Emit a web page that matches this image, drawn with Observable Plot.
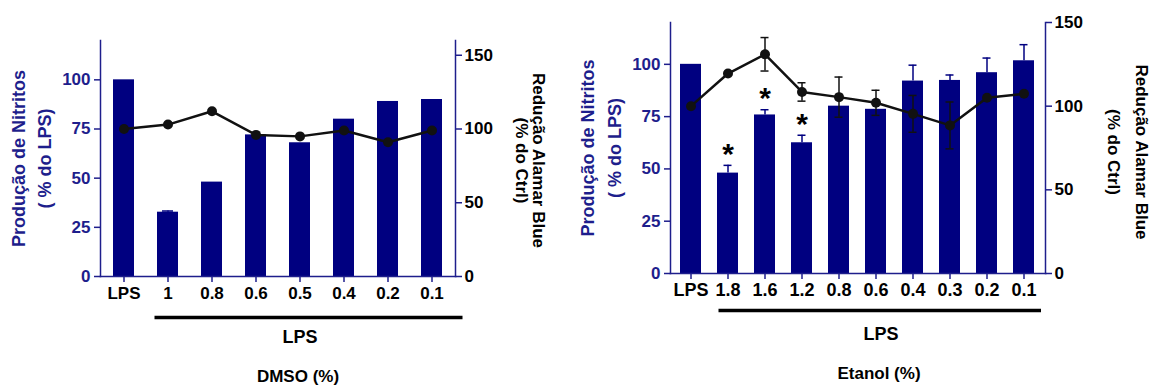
<!DOCTYPE html>
<html>
<head>
<meta charset="utf-8">
<script src="https://cdn.jsdelivr.net/npm/d3@7"></script>
<script src="https://cdn.jsdelivr.net/npm/@observablehq/plot@0.6"></script>
<style>
  html, body { margin: 0; padding: 0; background: #fff; }
  #wrap { position: relative; width: 1152px; height: 385px; overflow: hidden; }
  #wrap > div { position: absolute; top: 0; }
</style>
</head>
<body>
<div id="wrap"><div id="p1" style="left:0px"></div><div id="p2" style="left:570px"></div></div>
<script>
// ---- DMSO panel data ----
const dmsoCats = ["LPS", "1", "0.8", "0.6", "0.5", "0.4", "0.2", "0.1"];
const dmsoNitrite = [100, 32.7, 48, 72, 68, 80, 89, 90];
const dmsoNitriteErr = [0, 0.6, 0, 0, 0, 0, 0, 0];
const dmsoAlamar = [100, 103, 112, 96, 95, 99, 91, 99];
const dmsoAlamarErr = [0, 0, 0, 0, 0, 0, 0, 0];
const dmsoStars = [];

// ---- Etanol panel data ----
const etanolCats = ["LPS", "1.8", "1.6", "1.2", "0.8", "0.6", "0.4", "0.3", "0.2", "0.1"];
const etanolNitrite = [100, 48, 75.8, 62.5, 80, 78.5, 92, 92.3, 96, 101.7];
const etanolNitriteErr = [0, 3.7, 2.5, 3.6, 0, 0, 7.6, 2.6, 7, 7.7];
const etanolAlamar = [100, 119.5, 131, 108.5, 105.4, 102, 95.4, 88.5, 105, 107.4];
const etanolAlamarErr = [0, 0, 10, 5.5, 12, 7.5, 11, 14, 0, 0];
const etanolStars = ["1.8", "1.6", "1.2"];

// ---- texts ----
const leftTitle = ["Produção de Nitritos", "( % do LPS)"];
const rightTitle = ["Redução Alamar Blue", "(% do Ctrl)"];
const groupLabel = "LPS";
const dmsoLabel = "DMSO (%)";
const etanolLabel = "Etanol (%)";
const leftTicks = [0, 25, 50, 75, 100];
const rightTicks = [0, 50, 100, 150];

const BLUE = "#000080";
const AXIS = "#1e1e8c";
const FONT = "'Liberation Sans', Arial, Helvetica, sans-serif";

function panel(cfg) {
  const k = cfg.leftMax / cfg.rightMax; // right-axis value -> left-axis units
  const rows = cfg.cats.map((c, i) => ({
    cat: c,
    nit: cfg.nit[i],
    nitErr: cfg.nitErr[i],
    ala: cfg.ala[i] * k,
    alaErr: cfg.alaErr[i] * k
  }));
  const errNit = rows.filter(d => d.nitErr > 0);
  const errAla = rows.filter(d => d.alaErr > 0);
  const stars = rows.filter(d => cfg.stars.includes(d.cat));
  const treated = cfg.cats.slice(1);
  const half = cfg.pad / 2;
  const capOpts = {insetLeft: cfg.capInset, insetRight: cfg.capInset, strokeWidth: 1.5};
  return Plot.plot({
    width: cfg.width,
    height: 385,
    marginLeft: cfg.mL,
    marginRight: cfg.mR,
    marginTop: cfg.mT,
    marginBottom: cfg.mB,
    style: {fontFamily: FONT, fontSize: cfg.fs + "px", fontWeight: "bold", background: "transparent", overflow: "visible"},
    x: {domain: cfg.cats, paddingInner: cfg.pad, paddingOuter: half, label: null},
    y: {domain: [0, cfg.leftMax], label: null},
    marks: [
      Plot.barY(rows, {x: "cat", y: "nit", fill: BLUE}),
      Plot.ruleX(errNit, {x: "cat", y1: "nit", y2: d => d.nit + d.nitErr, stroke: BLUE, strokeWidth: 1.5}),
      Plot.tickY(errNit, {x: "cat", y: d => d.nit + d.nitErr, stroke: BLUE, ...capOpts}),
      Plot.text(stars, {x: "cat", y: d => d.nit + d.nitErr, text: () => "*", dy: -11, fontSize: 30, fill: "black", fontWeight: "bold"}),
      Plot.ruleX(errAla, {x: "cat", y1: d => d.ala - d.alaErr, y2: d => d.ala + d.alaErr, stroke: "#111", strokeWidth: 1.5}),
      Plot.tickY(errAla, {x: "cat", y: d => d.ala + d.alaErr, stroke: "#111", ...capOpts}),
      Plot.tickY(errAla, {x: "cat", y: d => d.ala - d.alaErr, stroke: "#111", ...capOpts}),
      Plot.line(rows, {x: "cat", y: "ala", stroke: "#111", strokeWidth: 2.5}),
      Plot.dot(rows, {x: "cat", y: "ala", r: 5, fill: "#111", stroke: "none"}),
      Plot.frame({anchor: "left", stroke: AXIS, strokeWidth: 1.5}),
      Plot.frame({anchor: "right", stroke: AXIS, strokeWidth: 1.5}),
      Plot.frame({anchor: "bottom", stroke: AXIS, strokeWidth: 1.5}),
      Plot.axisY({ticks: leftTicks, tickSize: 6, tickPadding: 4, stroke: AXIS, fill: AXIS, strokeWidth: 1.5, fontSize: cfg.fs, label: null}),
      Plot.axisY({anchor: "right", ticks: rightTicks.map(v => v * k), tickFormat: d => String(Math.round(d / k)), tickSize: 6, tickPadding: 3, stroke: AXIS, fill: "black", strokeWidth: 1.5, fontSize: cfg.fs, label: null}),
      Plot.axisX({tickSize: 6, tickPadding: 4, stroke: AXIS, fill: "black", strokeWidth: 1.5, fontSize: cfg.xfs, label: null}),
      // LPS bracket line under the treated groups
      Plot.ruleY([0], {x1: () => treated[0], x2: () => treated[treated.length - 1], dy: cfg.lineDy, stroke: "black", strokeWidth: 3.5, insetLeft: cfg.lineInL, insetRight: cfg.lineInR}),
      Plot.text([groupLabel], {frameAnchor: "bottom", text: d => d, textAnchor: "middle", lineAnchor: "middle", dx: cfg.labDx, dy: 61, fontSize: 18, fill: "black"}),
      Plot.text([cfg.bottom], {frameAnchor: "bottom", text: d => d, textAnchor: "middle", lineAnchor: "middle", dx: cfg.labDx - 2, dy: 100, fontSize: 17, fill: "black"}),
      // left axis title (two lines)
      Plot.text([leftTitle[0]], {frameAnchor: "left", text: d => d, textAnchor: "middle", lineAnchor: "middle", rotate: -90, dx: cfg.lt1, dy: cfg.ltDy, fontSize: 18, fill: AXIS}),
      Plot.text([leftTitle[1]], {frameAnchor: "left", text: d => d, textAnchor: "middle", lineAnchor: "middle", rotate: -90, dx: cfg.lt2, dy: cfg.ltDy, fontSize: 18, fill: AXIS}),
      // right axis title (two lines)
      Plot.text([rightTitle[0]], {frameAnchor: "right", text: d => d, textAnchor: "middle", lineAnchor: "middle", rotate: 90, dx: cfg.rt1, dy: cfg.rtDy, fontSize: 17, fill: "black"}),
      Plot.text([rightTitle[1]], {frameAnchor: "right", text: d => d, textAnchor: "middle", lineAnchor: "middle", rotate: 90, dx: cfg.rt2, dy: cfg.rtDy, fontSize: 17, fill: "black"})
    ]
  });
}

document.getElementById("p1").appendChild(panel({
  cats: dmsoCats, nit: dmsoNitrite, nitErr: dmsoNitriteErr, ala: dmsoAlamar, alaErr: dmsoAlamarErr, stars: dmsoStars,
  leftMax: 120, rightMax: 160,
  width: 570, mL: 100, mR: 115, mT: 40, mB: 109,
  pad: 0.53, capInset: 16, fs: 17, xfs: 17,
  lineDy: 41, lineInL: -2.5, lineInR: -20.5, labDx: 22,
  lt1: -81, lt2: -55, ltDy: 0, rt1: 83, rt2: 66, rtDy: 2,
  bottom: dmsoLabel
}));

document.getElementById("p2").appendChild(panel({
  cats: etanolCats, nit: etanolNitrite, nitErr: etanolNitriteErr, ala: etanolAlamar, alaErr: etanolAlamarErr, stars: etanolStars,
  leftMax: 120, rightMax: 150,
  width: 582, mL: 100, mR: 107, mT: 22, mB: 112,
  pad: 0.42, capInset: 14.5, fs: 17, xfs: 18,
  lineDy: 37, lineInL: 1.5, lineInR: -7, labDx: 23,
  lt1: -82, lt2: -55, ltDy: 0, rt1: 96, rt2: 68, rtDy: 4,
  bottom: etanolLabel
}));
</script>
</body>
</html>
